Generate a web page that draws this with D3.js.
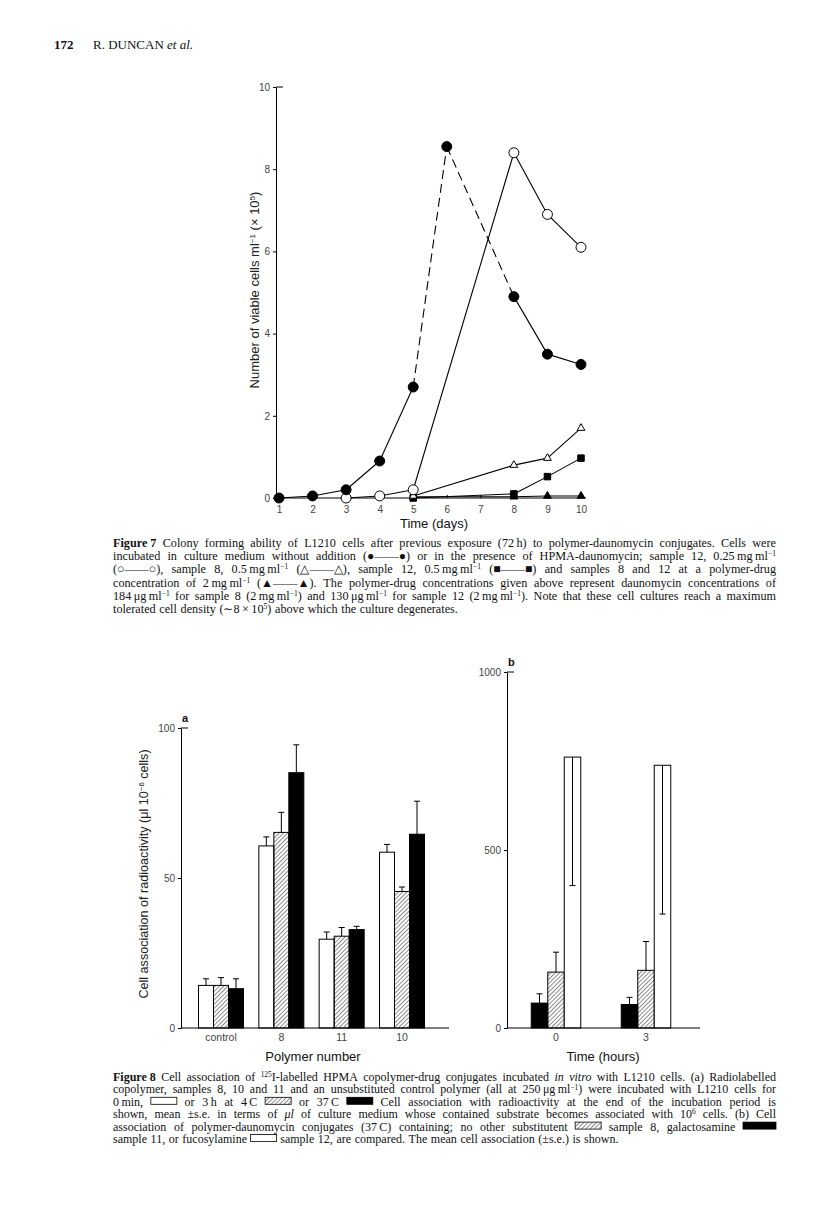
<!DOCTYPE html>
<html>
<head>
<meta charset="utf-8">
<script src="https://cdn.jsdelivr.net/npm/d3@7"></script>
<style>
  body { margin: 0; background: #fff; }
</style>
</head>
<body>
<svg id="page"></svg>
<script>
// ---------- Figure 7 : viable cells vs time
const dayTicks = [1, 2, 3, 4, 5, 6, 7, 8, 9, 10];
const cellTicks = [0, 2, 4, 6, 8, 10];
const controlDays = [1, 2, 3, 4, 5, 6, 8, 9, 10];
const controlCells = [0, 0.05, 0.2, 0.9, 2.7, 8.55, 4.9, 3.5, 3.25];
const s12LowDays = [3, 4, 5, 8, 9, 10];
const s12LowCells = [0, 0.05, 0.2, 8.4, 6.9, 6.1];
const s8Days = [5, 8, 9, 10];
const s8Cells = [0.05, 0.8, 0.97, 1.7];
const s12Days = [5, 8, 9, 10];
const s12Cells = [0, 0.1, 0.52, 0.97];
const highDays = [5, 8, 9, 10];
const highCells = [0.03, 0.03, 0.05, 0.05];
const dashedSegments = [[5, 6], [6, 8]];

// ---------- Figure 8a : cell association by polymer
const polymers = ['control', '8', '11', '10'];
const a0min = [14.2, 60.7, 29.6, 58.6];
const a0minSE = [2.2, 3.0, 2.4, 2.6];
const a4C = [14.2, 65.2, 30.6, 45.5];
const a4CSE = [2.6, 6.7, 2.9, 1.5];
const a37C = [13.1, 85.1, 32.8, 64.6];
const a37CSE = [3.3, 9.3, 1.1, 11.0];
const assocTicksA = [0, 50, 100];

// ---------- Figure 8b : daunomycin conjugates vs time
const hours = ['0', '3'];
const bGal = [70, 66];
const bGalSE = [26, 20];
const bNone = [157, 162];
const bNoneSE = [56, 81];
const bFuc = [761, 738];
const bFucSE = [361, 418];
const assocTicksB = [0, 500, 1000];

const sans = "'Liberation Sans', Arial, sans-serif";
const serif = "'Liberation Serif', 'Times New Roman', serif";

const svg = d3.select('#page').attr('width', 816).attr('height', 1219);

const defs = svg.append('defs');
defs.append('pattern')
    .attr('id', 'hatch')
    .attr('width', 3).attr('height', 3)
    .attr('patternUnits', 'userSpaceOnUse')
    .attr('patternTransform', 'rotate(45)')
  .append('line')
    .attr('x1', 0).attr('y1', 0).attr('x2', 0).attr('y2', 3)
    .attr('stroke', '#000').attr('stroke-width', 0.9);

// text with ^{...} superscripts; '#' = thin space, '@' = no-break space
function richText(t, str, size) {
    str = str.replace(/#/g, '\u2009').replace(/@/g, '\u00a0');
    let up = false;
    str.split(/(\^\{[^}]*\})/).forEach(p => {
        if (!p) return;
        const sup = p.startsWith('^{');
        const ts = t.append('tspan').text(sup ? p.slice(2, -1) : p);
        if (sup) { ts.attr('font-size', size * 0.62).attr('dy', -size * 0.32); up = true; }
        else if (up) { ts.attr('dy', size * 0.32); up = false; }
    });
}

function drawBox(g, kind, x, y, w) {
    g.append('rect')
        .attr('x', x).attr('y', y - 8.5).attr('width', w).attr('height', 7)
        .attr('fill', kind == 'W' ? '#fff' : kind == 'H' ? 'url(#hatch)' : '#000')
        .attr('stroke', '#000').attr('stroke-width', 0.8);
}

// justified caption lines, tokens split on plain spaces
function caption(lines, x0, x1, y0, lh, size) {
    const g = svg.append('g').attr('font-family', serif).attr('font-size', size).attr('fill', '#111');
    lines.forEach((line, i) => {
        const y = y0 + i * lh;
        const items = line.split(' ').filter(s => s).map(tok => {
            const bm = tok.match(/^\[([WHB])(\d*)\]$/);
            if (bm) return { box: bm[1], w: bm[2] ? +bm[2] : 26 };
            let txt = tok;
            const t = g.append('text').attr('y', y);
            if (/^\*.+\*$/.test(tok)) { txt = tok.slice(1, -1); t.attr('font-weight', 'bold'); }
            else if (/^_.+_/.test(tok)) { txt = tok.replace(/_/g, ''); t.attr('font-style', 'italic'); }
            richText(t, txt, size);
            return { el: t, w: t.node().getComputedTextLength() };
        });
        const total = d3.sum(items, d => d.w);
        const last = i == lines.length - 1;
        const gap = last ? size * 0.3 : (x1 - x0 - total) / (items.length - 1);
        let x = x0;
        items.forEach(it => {
            if (it.box) drawBox(g, it.box, x, y, it.w);
            else it.el.attr('x', x);
            x += it.w + gap;
        });
    });
}

function styleAxis(g, size) {
    g.selectAll('text').attr('font-family', sans).attr('font-size', size).attr('fill', '#444');
    g.selectAll('line,path').attr('stroke', '#000');
}

// ---------- running head
const head = svg.append('g').attr('font-family', serif).attr('font-size', 13).attr('fill', '#111');
head.append('text').attr('x', 54).attr('y', 49).attr('font-weight', 'bold').text('172');
const ht = head.append('text').attr('x', 93).attr('y', 49);
ht.append('tspan').text('R. DUNCAN ');
ht.append('tspan').attr('font-style', 'italic').text('et al.');

// ---------- Figure 7
const x7 = d3.scaleLinear().domain([1, 10]).range([279, 581]);
const y7 = d3.scaleLinear().domain([0, 10]).range([498, 87]);

const gy7 = svg.append('g').attr('transform', 'translate(276,0)')
    .call(d3.axisLeft(y7).tickValues(cellTicks).tickSize(3).tickSizeOuter(0).tickPadding(3));
styleAxis(gy7, 10);
svg.append('line').attr('x1', 276).attr('x2', 283).attr('y1', y7(10)).attr('y2', y7(10)).attr('stroke', '#000');

const gx7 = svg.append('g').attr('transform', 'translate(0,' + y7(0) + ')')
    .call(d3.axisBottom(x7).tickValues(dayTicks).tickSize(-3).tickPadding(8));
gx7.select('.domain').remove();
styleAxis(gx7, 10);
svg.append('line').attr('x1', 276).attr('x2', 586).attr('y1', y7(0)).attr('y2', y7(0))
    .attr('stroke', '#000').attr('stroke-width', 1.2);

const ylab7 = svg.append('text')
    .attr('transform', 'translate(259,' + 290 + ') rotate(-90)')
    .attr('text-anchor', 'middle').attr('font-family', sans).attr('font-size', 13).attr('fill', '#222');
richText(ylab7, 'Number of viable cells ml^{−1} (× 10^{5})', 13);

svg.append('text').attr('x', 434).attr('y', 528).attr('text-anchor', 'middle')
    .attr('font-family', sans).attr('font-size', 13).attr('fill', '#111').text('Time (days)');

const series7 = [
    { days: highDays, vals: highCells, mark: 'triF' },
    { days: s12Days, vals: s12Cells, mark: 'sqF' },
    { days: s8Days, vals: s8Cells, mark: 'triO' },
    { days: s12LowDays, vals: s12LowCells, mark: 'circO' },
    { days: controlDays, vals: controlCells, mark: 'circF', dashed: dashedSegments }
];

const line7 = d3.line().x(d => x7(d[0])).y(d => y7(d[1]));

series7.forEach(s => {
    const pts = s.days.map((d, i) => [d, s.vals[i]]);
    for (let i = 0; i < pts.length - 1; i++) {
        const dash = (s.dashed || []).some(p => p[0] == pts[i][0] && p[1] == pts[i + 1][0]);
        svg.append('path')
            .attr('d', line7([pts[i], pts[i + 1]]))
            .attr('fill', 'none').attr('stroke', '#000').attr('stroke-width', 1.1)
            .attr('stroke-dasharray', dash ? '9,5' : null);
    }
});

series7.forEach(s => {
    const pts = s.days.map((d, i) => [d, s.vals[i]]);
    svg.append('g').selectAll('path')
        .data(pts)
        .enter()
        .append('path')
        .attr('transform', d => 'translate(' + x7(d[0]) + ',' + y7(d[1]) + ')')
        .attr('d', () => {
            if (s.mark.startsWith('circ')) return d3.symbol(d3.symbolCircle, 78)();
            if (s.mark.startsWith('tri')) return d3.symbol(d3.symbolTriangle, 26)();
            return d3.symbol(d3.symbolSquare, 42)();
        })
        .attr('fill', s.mark.endsWith('F') ? '#000' : '#fff')
        .attr('stroke', '#000').attr('stroke-width', 1);
});

caption([
    '*Figure@7*  Colony forming ability of L1210 cells after previous exposure (72#h) to polymer-daunomycin conjugates. Cells were',
    'incubated in culture medium without addition (●——●) or in the presence of HPMA-daunomycin; sample 12, 0.25#mg#ml^{−1}',
    '(○——○), sample 8, 0.5#mg#ml^{−1} (△——△), sample 12, 0.5#mg#ml^{−1} (■——■) and samples 8 and 12 at a polymer-drug',
    'concentration of 2#mg#ml^{−1} (▲——▲). The polymer-drug concentrations given above represent daunomycin concentrations of',
    '184#μg#ml^{−1} for sample 8 (2#mg#ml^{−1}) and 130#μg#ml^{−1} for sample 12 (2#mg#ml^{−1}). Note that these cell cultures reach a maximum',
    'tolerated cell density (∼8#×#10^{5}) above which the culture degenerates.'
], 113, 776, 547, 13.2, 12.2);

// ---------- Figure 8 bar panels
function barPanel(cats, series, xs, ys, bw, axisX, axisRight, ticks, label, xTitle, yTitle) {
    const g = svg.append('g');
    const n = series.length;
    series.forEach((s, k) => {
        cats.forEach((c, i) => {
            const x = xs(c) + (k - n / 2) * bw;
            const v = s.vals[i];
            g.append('rect')
                .attr('x', x).attr('y', ys(v))
                .attr('width', bw).attr('height', ys(0) - ys(v))
                .attr('fill', s.fill).attr('stroke', '#000').attr('stroke-width', 1);
            const cx = x + bw / 2;
            const end = v + (s.dir || 1) * s.se[i];
            g.append('line').attr('x1', cx).attr('x2', cx).attr('y1', ys(v)).attr('y2', ys(end))
                .attr('stroke', '#000').attr('stroke-width', 1);
            g.append('line').attr('x1', cx - 3).attr('x2', cx + 3).attr('y1', ys(end)).attr('y2', ys(end))
                .attr('stroke', '#000').attr('stroke-width', 1);
        });
    });

    const gy = svg.append('g').attr('transform', 'translate(' + axisX + ',0)')
        .call(d3.axisLeft(ys).tickValues(ticks).tickFormat(d3.format('d'))
            .tickSize(3).tickSizeOuter(0).tickPadding(3));
    styleAxis(gy, 10);
    const top = ys(ticks[ticks.length - 1]);
    svg.append('line').attr('x1', axisX).attr('x2', axisX + 7).attr('y1', top).attr('y2', top).attr('stroke', '#000');
    svg.append('line').attr('x1', axisX).attr('x2', axisRight).attr('y1', ys(0)).attr('y2', ys(0))
        .attr('stroke', '#000').attr('stroke-width', 1.1);

    svg.append('g').selectAll('text')
        .data(cats)
        .enter()
        .append('text')
        .attr('x', d => xs(d)).attr('y', ys(0) + 13)
        .attr('text-anchor', 'middle').attr('font-family', sans).attr('font-size', 10.5).attr('fill', '#444')
        .text(d => d);

    svg.append('text').attr('x', axisX + 1).attr('y', top - 6)
        .attr('font-family', sans).attr('font-weight', 'bold').attr('font-size', 11).attr('fill', '#111').text(label);

    svg.append('text').attr('x', xTitle[0]).attr('y', xTitle[1]).attr('text-anchor', 'middle')
        .attr('font-family', sans).attr('font-size', 13).attr('fill', '#111').text(xTitle[2]);

    if (yTitle) {
        const t = svg.append('text')
            .attr('transform', 'translate(' + yTitle[0] + ',' + yTitle[1] + ') rotate(-90)')
            .attr('text-anchor', 'middle').attr('font-family', sans).attr('font-size', 12.6).attr('fill', '#222');
        richText(t, yTitle[2], 12.6);
    }
}

const xA = d3.scalePoint().domain(polymers).range([221, 402]);
const yA = d3.scaleLinear().domain([0, 100]).range([1028, 728]);
barPanel(polymers, [
    { vals: a0min, se: a0minSE, fill: '#fff' },
    { vals: a4C, se: a4CSE, fill: 'url(#hatch)' },
    { vals: a37C, se: a37CSE, fill: '#000' }
], xA, yA, 15, 181, 449, assocTicksA, 'a',
    [313, 1061, 'Polymer number'],
    [148, 874, 'Cell association of radioactivity (μl 10^{−6} cells)']);

const xB = d3.scalePoint().domain(hours).range([556, 646]);
const yB = d3.scaleLinear().domain([0, 1000]).range([1028, 672]);
barPanel(hours, [
    { vals: bGal, se: bGalSE, fill: '#000' },
    { vals: bNone, se: bNoneSE, fill: 'url(#hatch)' },
    { vals: bFuc, se: bFucSE, fill: '#fff', dir: -1 }
], xB, yB, 16.5, 507, 700, assocTicksB, 'b',
    [603, 1061, 'Time (hours)'], null);

caption([
    '*Figure@8*  Cell association of ^{125}I-labelled HPMA copolymer-drug conjugates incubated _in_ _vitro_ with L1210 cells. (a) Radiolabelled',
    'copolymer, samples 8, 10 and 11 and an unsubstituted control polymer (all at 250#μg#ml^{−1}) were incubated with L1210 cells for',
    '0#min, [W] or 3#h at 4#C [H] or 37#C [B] Cell association with radioactivity at the end of the incubation period is',
    'shown, mean ±s.e. in terms of _μl_ of culture medium whose contained substrate becomes associated with 10^{6} cells. (b) Cell',
    'association of polymer-daunomycin conjugates (37#C) containing; no other substitutent [H] sample 8, galactosamine [B33]',
    'sample 11, or fucosylamine [W] sample 12, are compared. The mean cell association (±s.e.) is shown.'
], 113, 776, 1081, 12.4, 12);
</script>
</body>
</html>
